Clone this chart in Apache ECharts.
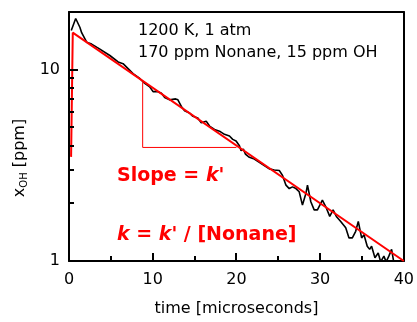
<!DOCTYPE html>
<html><head><meta charset="utf-8">
<script src="https://cdn.jsdelivr.net/npm/echarts@6/dist/echarts.min.js"></script>
<style>html,body{margin:0;padding:0;background:#fff}#c{width:417px;height:322px}</style>
</head><body><div id="c"></div>
<script>
// time [microseconds]
const traceTime = [0.27,0.8,0.92,1.31,1.51,2.11,2.3,2.7,3.3,3.69,4.88,5.87,6.46,7.06,7.65,8.45,9.05,9.64,10.04,10.63,11.04,11.43,12.02,12.74,13.01,13.42,13.81,14.4,14.8,15.39,15.8,16.39,16.79,17.38,17.98,18.57,19.17,19.56,19.96,20.36,20.56,20.83,21.07,21.55,22.14,22.74,23.33,23.93,24.52,25.12,25.51,25.92,26.31,26.7,27.11,27.5,27.89,28.3,28.49,28.89,29.29,29.68,30.27,30.68,31.15,31.55,31.94,32.46,33.06,33.45,33.85,34.25,34.56,34.96,35.24,35.63,35.92,36.15,36.55,36.94,37.23,37.62,37.89,38.21,38.54,38.81,39.1];
// x_OH [ppm]
const traceOH = [16.0,18.5,18.7,16.6,15.6,13.9,13.6,13.6,13.1,12.8,11.85,10.96,10.74,10.12,9.54,8.99,8.47,8.14,7.67,7.67,7.52,7.15,6.95,7.03,6.95,6.42,6.10,5.93,5.70,5.59,5.27,5.38,5.07,4.87,4.77,4.59,4.50,4.32,4.24,4.00,3.77,3.84,3.62,3.48,3.41,3.28,3.15,3.03,2.99,2.97,2.80,2.49,2.39,2.44,2.39,2.30,1.96,2.25,2.49,2.04,1.85,1.85,2.08,1.92,1.71,1.85,1.71,1.61,1.49,1.32,1.32,1.43,1.61,1.32,1.37,1.195,1.15,1.195,1.04,1.10,0.99,1.06,0.99,1.06,1.15,0.98,1.0];
// exponential fit
const fitTime = [0.25, 0.45, 40];
const fitOH = [3.5, 15.6, 1.0];
// slope triangle
const triTime = [8.8, 8.8, 20.0];
const triOH = [8.6, 3.92, 3.92];
// axes
const xMin = 0, xMax = 40, xInterval = 10;
const xTickValues = [5, 10, 15, 20, 25, 30, 35];
const xMajorTicks = [10, 20, 30];
const yMin = 1, yMax = 20;
const yLabelValues = [1, 10];
const yTickValues = [2,3,4,5,6,7,8,9,10];
const yMajorTicks = [10];
const noteLines = ['1200 K, 1 atm', '170 ppm Nonane, 15 ppm OH'];

const zip = (a, b) => a.map((v, i) => [v, b[i]]);
const FONT = 'DejaVu Sans';
const RED = '#ff0000';

const frameAxis = {axisLine: {show: true, onZero: false, lineStyle: {color: '#000', width: 2}}, axisTick: {show: false}, axisLabel: {show: false}, splitLine: {show: false}};

const chart = echarts.init(document.getElementById('c'), null, {renderer: 'canvas'});
chart.setOption({
  animation: false,
  backgroundColor: '#fff',
  grid: {left: 69, right: 12, top: 12, bottom: 57, show: false},
  xAxis: [{
    type: 'value', min: xMin, max: xMax, interval: xInterval, position: 'bottom',
    name: 'time [microseconds]', nameLocation: 'middle', nameGap: 40,
    nameTextStyle: {fontFamily: FONT, fontSize: 16, color: '#000'},
    axisLine: {show: true, onZero: false, lineStyle: {color: '#000', width: 2}},
    axisTick: {show: false},
    axisLabel: {fontFamily: FONT, fontSize: 16, color: '#000', margin: 11},
    splitLine: {show: false}
  }, Object.assign({type: 'value', min: xMin, max: xMax, position: 'top'}, frameAxis)],
  yAxis: [{
    type: 'log', logBase: 10, min: yMin, max: yMax, position: 'left',
    axisLine: {show: true, onZero: false, lineStyle: {color: '#000', width: 2}},
    axisTick: {show: false},
    axisLabel: {fontFamily: FONT, fontSize: 16, color: '#000', margin: 9,
      formatter: v => yLabelValues.some(t => Math.abs(t - v) < 1e-6) ? String(Math.round(v)) : ''},
    splitLine: {show: false}
  }, Object.assign({type: 'log', logBase: 10, min: yMin, max: yMax, position: 'right'}, frameAxis)],
  series: [
    {type: 'line', data: zip(traceTime, traceOH), showSymbol: false, symbol: 'none',
     lineStyle: {color: '#000', width: 1.6}, z: 3},
    {type: 'line', data: zip(fitTime, fitOH), showSymbol: false, symbol: 'none',
     lineStyle: {color: RED, width: 2}, z: 4},
    {type: 'line', data: zip(triTime, triOH), showSymbol: false, symbol: 'none',
     lineStyle: {color: RED, width: 1}, z: 4},
    {type: 'custom', coordinateSystem: 'cartesian2d', clip: false, z: 10,
     data: yTickValues.map(v => [xMin, v]),
     renderItem: (params, api) => {
       const v = api.value(1);
       const p = api.coord([api.value(0), v]);
       const len = yMajorTicks.includes(v) ? 9 : 5;
       return {type: 'line', shape: {x1: p[0], y1: Math.round(p[1]), x2: p[0] + len, y2: Math.round(p[1])},
               style: {stroke: '#000', lineWidth: 2}};
     }},
    {type: 'custom', coordinateSystem: 'cartesian2d', clip: false, z: 10,
     data: xTickValues.map(v => [v, yMin]),
     renderItem: (params, api) => {
       const v = api.value(0);
       const p = api.coord([v, api.value(1)]);
       const len = xMajorTicks.includes(v) ? 8 : 5;
       const x = Math.round(p[0]);
       return {type: 'line', shape: {x1: x, y1: p[1], x2: x, y2: p[1] - len},
               style: {stroke: '#000', lineWidth: 2}};
     }}
  ],
  graphic: [
    {type: 'text', x: 138, y: 31, style: {text: noteLines[0], fontFamily: FONT, fontSize: 16, fill: '#000', verticalAlign: 'middle'}},
    {type: 'text', x: 138, y: 53, style: {text: noteLines[1], fontFamily: FONT, fontSize: 16, fill: '#000', verticalAlign: 'middle'}},
    {type: 'text', x: 117, y: 176, style: {
      text: '{b|Slope = }{i|k\'}', fill: RED,
      verticalAlign: 'middle',
      rich: {b: {fontFamily: FONT, fontSize: 19, fontWeight: 'bold', fill: RED},
             i: {fontFamily: FONT, fontSize: 19, fontWeight: 'bold', fontStyle: 'italic', fill: RED}}}},
    {type: 'text', x: 117, y: 235, style: {
      text: '{i|k}{b| = }{i|k\'}{b| / [Nonane]}', fill: RED,
      verticalAlign: 'middle',
      rich: {b: {fontFamily: FONT, fontSize: 19, fontWeight: 'bold', fill: RED},
             i: {fontFamily: FONT, fontSize: 19, fontWeight: 'bold', fontStyle: 'italic', fill: RED}}}},
    {type: 'text', x: 20, y: 158, rotation: Math.PI / 2, style: {
      text: '{n|x}{s|OH}{n| [ppm]}', align: 'center', verticalAlign: 'middle', fill: '#000',
      rich: {n: {fontFamily: FONT, fontSize: 16, fill: '#000'},
             s: {fontFamily: FONT, fontSize: 10, fill: '#000', verticalAlign: 'bottom', padding: [8, 0, 0, 0]}}}}
  ]
});
</script></body></html>
